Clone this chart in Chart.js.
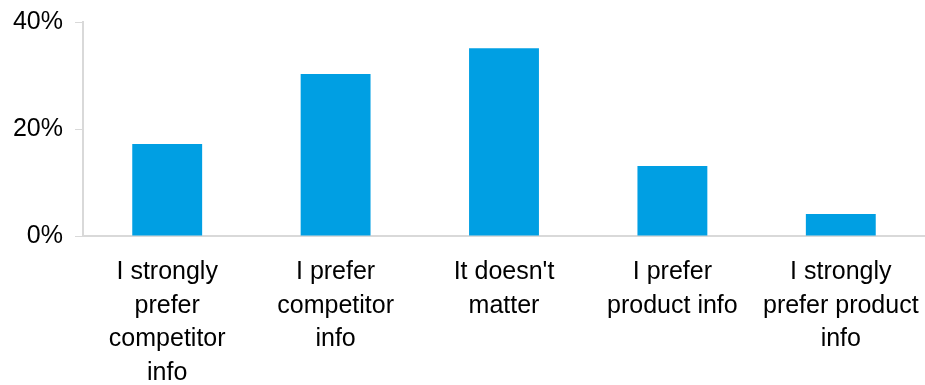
<!DOCTYPE html>
<html>
<head>
<meta charset="utf-8">
<script src="https://cdn.jsdelivr.net/npm/chart.js@4"></script>
<style>
	html, body { margin: 0; padding: 0; background: #fff; }
	#wrap { width: 925px; height: 385px; position: relative; }
</style>
</head>
<body>
<div id="wrap"><canvas id="preferenceChart"></canvas></div>
<script>
	const categories = [
		['I strongly', 'prefer', 'competitor', 'info'],
		['I prefer', 'competitor', 'info'],
		['It doesn\'t', 'matter'],
		['I prefer', 'product info'],
		['I strongly', 'prefer product', 'info']
	];
	const shares = [17.2, 30.3, 35.1, 13.1, 4.1];
	const yTicks = [0, 20, 40];

	const axisColor = '#d9d9d9';
	const barColor = '#009fe3';
	const fontFamily = 'Liberation Sans, Arial, sans-serif';

	new Chart(document.getElementById('preferenceChart'), {
		type: 'bar',
		data: {
			labels: categories,
			datasets: [{
				data: shares,
				backgroundColor: barColor,
				barPercentage: 0.415,
				categoryPercentage: 1
			}]
		},
		options: {
			responsive: true,
			maintainAspectRatio: false,
			animation: false,
			layout: { padding: { top: 22, right: 0, bottom: 0, left: 0 } },
			plugins: {
				legend: { display: false },
				tooltip: { enabled: false }
			},
			scales: {
				x: {
					grid: { display: false, drawTicks: false },
					border: { color: axisColor, width: 2 },
					ticks: {
						color: '#000',
						padding: 19,
						maxRotation: 0,
						autoSkip: false,
						font: { family: fontFamily, size: 25, lineHeight: 1.35 }
					},
					afterFit: function(scale) {
						scale.height = 149;
						scale.paddingLeft = 0;
						scale.paddingRight = 0;
					}
				},
				y: {
					min: 0,
					max: 40,
					afterBuildTicks: function(scale) {
						scale.ticks = yTicks.map(v => ({ value: v }));
					},
					grid: {
						display: true,
						drawOnChartArea: false,
						drawTicks: true,
						tickLength: 8,
						color: axisColor
					},
					border: { color: axisColor, width: 2 },
					ticks: {
						color: '#000',
						padding: 12,
						callback: v => v + '%',
						font: { family: fontFamily, size: 25 }
					},
					afterFit: function(scale) {
						scale.width = 83;
						scale.paddingTop = 0;
						scale.paddingBottom = 0;
					}
				}
			}
		}
	});
</script>
</body>
</html>
